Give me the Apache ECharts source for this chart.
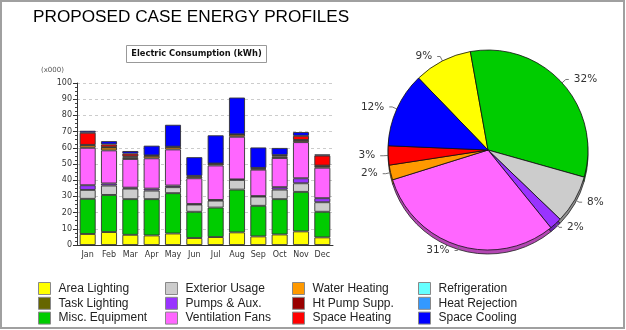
<!DOCTYPE html>
<html><head><meta charset="utf-8">
<script src="https://cdn.jsdelivr.net/npm/echarts@6/dist/echarts.min.js"></script>
<style>html,body{margin:0;padding:0;background:#fff}#c{width:626px;height:330px}</style>
</head><body><div id="c"></div>
<script>
// ---- data (thousands of kWh) ----
const months = ['Jan','Feb','Mar','Apr','May','Jun','Jul','Aug','Sep','Oct','Nov','Dec'];
const seriesNames = ['Area Lighting','Task Lighting','Misc. Equipment','Exterior Usage','Pumps & Aux.','Ventilation Fans','Water Heating','Ht Pump Supp.','Space Heating','Refrigeration','Heat Rejection','Space Cooling'];
const seriesColors = ['#FFFF00','#666600','#00CC00','#CCCCCC','#9933FF','#FF66FF','#FF9900','#990000','#FF0000','#66FFFF','#3399FF','#0000FF'];
const areaLighting    = [6.8, 8.0, 6.3, 5.9, 7.1, 4.3, 4.9, 7.8, 5.3, 6.5, 8.4, 4.7];
const taskLighting    = [0,0,0,0,0,0,0,0,0,0,0,0];
const miscEquipment   = [21.7, 22.9, 22.0, 22.4, 24.9, 16.2, 18.2, 26.4, 18.9, 21.8, 24.4, 15.8];
const exteriorUsage   = [5.5, 5.8, 6.5, 5.3, 3.7, 4.5, 4.3, 6.0, 5.7, 5.9, 5.3, 5.9];
const pumpsAux        = [2.9, 1.3, 0.6, 1.2, 1.0, 0.3, 0.4, 0.3, 0.3, 1.5, 3.1, 2.5];
const ventilationFans = [23.1, 20.4, 17.7, 18.7, 22.3, 15.9, 21.3, 26.3, 16.3, 18.0, 22.3, 18.8];
const waterHeating    = [1.5, 1.8, 1.0, 1.5, 1.5, 1.0, 1.0, 1.3, 0.7, 1.0, 1.0, 1.0];
const htPumpSupp      = [0.3, 0.2, 0.6, 0.3, 0.2, 0.5, 0.2, 0.2, 0.4, 0.8, 0.3, 0.3];
const spaceHeating    = [7.5, 1.7, 1.7, 0, 0, 0, 0, 0, 0, 0, 2.6, 6.2];
const refrigeration   = [0,0,0,0,0,0,0,0,0,0,0,0];
const heatRejection   = [0,0,0,0,0,0,0,0,0,0,0,0];
const spaceCooling    = [1.2, 2.0, 1.6, 6.0, 13.5, 11.5, 17.4, 22.7, 12.6, 4.4, 2.3, 0.7];
// annual share (%) shown in the pie
const annualShare = [9.4, 0, 32.2, 7.8, 2.0, 31.0, 2.4, 0, 3.1, 0, 0, 12.1];
const yTicks = [0,10,20,30,40,50,60,70,80,90,100];

const monthly = [areaLighting, taskLighting, miscEquipment, exteriorUsage, pumpsAux, ventilationFans, waterHeating, htPumpSupp, spaceHeating, refrigeration, heatRejection, spaceCooling];

function darken(hex, f){
  const n = parseInt(hex.slice(1),16);
  const r = Math.round(((n>>16)&255)*f), g = Math.round(((n>>8)&255)*f), b = Math.round((n&255)*f);
  return 'rgb('+r+','+g+','+b+')';
}

const barSeries = seriesNames.map((name,i)=>({
  name, type:'bar', stack:'total', barCategoryGap:'25%',
  xAxisIndex:0, yAxisIndex:0,
  itemStyle:{color:seriesColors[i], borderColor:'#333', borderWidth:0.9},
  emphasis:{disabled:true},
  data: monthly[i].map(v=> v>0 ? v : null)
}));

const pieItems = seriesNames.map((name,i)=>({name, value:annualShare[i], color:seriesColors[i]})).filter(d=>d.value>0);

const fontFam = 'DejaVu Sans, Verdana, sans-serif';
const legendFont = {fontFamily:'Liberation Sans, Arial, sans-serif', fontSize:12, color:'#222', padding:[0,0,0,3]};
function legendCol(names, left){
  return {data:names, orient:'vertical', left, top:277, itemWidth:12, itemHeight:12, itemGap:1.8, icon:'rect',
    itemStyle:{borderColor:'#888', borderWidth:1}, textStyle:legendFont, selectedMode:false};
}

const chart = echarts.init(document.getElementById('c'), null, {renderer:'canvas'});
chart.setOption({
  animation:false,
  backgroundColor:'#fff',
  grid:{left:77, right:293, top:83, bottom:85, containLabel:false},
  xAxis:{type:'category', data:months,
    axisLine:{lineStyle:{color:'#333', width:1}},
    axisTick:{alignWithLabel:true, length:3, lineStyle:{color:'#555'}},
    axisLabel:{interval:0, fontFamily:fontFam, fontSize:8, color:'#333', margin:6}},
  yAxis:{type:'value', min:yTicks[0], max:yTicks[yTicks.length-1], interval:10,
    axisLine:{show:true, lineStyle:{color:'#333', width:1}},
    axisTick:{show:true, length:4, lineStyle:{color:'#333'}},
    minorTick:{show:true, splitNumber:4, length:2, lineStyle:{color:'#444'}},
    splitLine:{show:true, lineStyle:{color:'#ccc', type:[3,3]}},
    axisLabel:{fontFamily:fontFam, fontSize:8, color:'#333', margin:5}},
  legend:[
    legendCol(seriesNames.slice(0,3), 33),
    legendCol(seriesNames.slice(3,6), 160),
    legendCol(seriesNames.slice(6,9), 287),
    legendCol(seriesNames.slice(9,12), 413)
  ],
  series: barSeries.concat([
    {type:'pie', name:'edge', center:[488,154], radius:100, startAngle:134, silent:true, z:1,
      label:{show:false}, labelLine:{show:false}, legendHoverLink:false,
      itemStyle:{borderColor:'#222', borderWidth:0.8},
      data:pieItems.map(d=>({name:d.name+' ', value:d.value, itemStyle:{color:darken(d.color,0.7)}}))},
    {type:'pie', name:'share', center:[488,150], radius:100, startAngle:134, z:2,
      avoidLabelOverlap:true,
      itemStyle:{borderColor:'#111', borderWidth:0.8},
      label:{show:true, position:'outside', fontFamily:fontFam, fontSize:10.5, color:'#333',
        formatter:p=>Math.round(p.percent)+'%'},
      labelLine:{show:true, length:5, length2:3, lineStyle:{color:'#777', width:1}},
      emphasis:{disabled:true},
      data:pieItems.map(d=>({name:d.name, value:d.value, itemStyle:{color:d.color}}))}
  ]),
  graphic:[
    {type:'rect', shape:{x:1, y:1, width:623, height:327}, style:{fill:null, stroke:'#a0a0a0', lineWidth:2}, silent:true},
    {type:'text', left:33, top:9, style:{text:'PROPOSED CASE ENERGY PROFILES', fontFamily:'Liberation Sans, Arial, sans-serif', fontSize:17.2, fill:'#000'}},
    {type:'rect', shape:{x:126.5, y:45.5, width:140, height:17}, style:{fill:'#fff', stroke:'#999', lineWidth:1}},
    {type:'text', x:196.5, y:54, style:{text:'Electric Consumption (kWh)', fontFamily:fontFam, fontSize:8.3, fontWeight:'bold', fill:'#111', align:'center', verticalAlign:'middle'}},
    {type:'text', x:41, y:70, style:{text:'(x000)', fontFamily:fontFam, fontSize:7, fill:'#555', verticalAlign:'middle'}}
  ]
});
</script></body></html>
